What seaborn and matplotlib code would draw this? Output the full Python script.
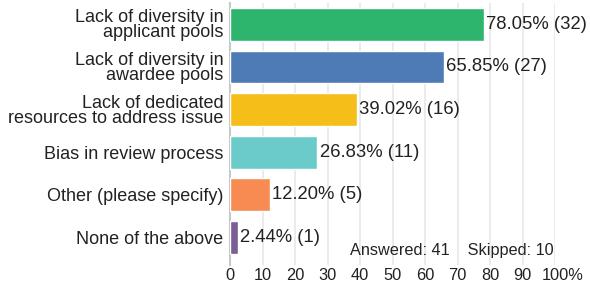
import pandas as pd
import matplotlib.pyplot as plt
import matplotlib.transforms as mtransforms
import seaborn as sns

categorias = ["Lack of diversity in\napplicant pools",
              "Lack of diversity in\nawardee pools",
              "Lack of dedicated\nresources to address issue",
              "Bias in review process",
              "Other (please specify)",
              "None of the above"]
percentuais = [78.05, 65.85, 39.02, 26.83, 12.20, 2.44]
contagens = [32, 27, 16, 11, 5, 1]
cores = ["#2DB56E", "#4E7AB5", "#F6BE19", "#6BCBCB", "#F78B52", "#7C5E96"]
ticks_x = [0, 10, 20, 30, 40, 50, 60, 70, 80, 90, 100]
rotulos_x = ["0", "10", "20", "30", "40", "50", "60", "70", "80", "90", "100%"]

sns.set_style("white")
plt.rcParams['font.family'] = ['Liberation Sans', 'DejaVu Sans']

dados = pd.DataFrame({"Categoria": categorias, "Pct": percentuais})

fig = plt.figure(figsize=(5.9, 2.85), dpi=100)
ax = fig.add_axes([0.39, 0.0702, 0.551, 0.919])
sns.barplot(data=dados, x="Pct", y="Categoria", hue="Categoria", palette=cores,
            legend=False, width=0.77, saturation=1, ax=ax, zorder=3)

for i, (p, c) in enumerate(zip(percentuais, contagens)):
    ax.text(p + 0.7, i, f"{p:.2f}% ({c})", va="center", ha="left",
            fontsize=13.3, color="#222222", zorder=4)

ax.set_xlim(0, 100)
ax.set_ylim(5.65, -0.5)
ax.set_xticks(ticks_x)
ax.set_xticklabels(rotulos_x)
ax.xaxis.grid(True, color="#e8e8e8", linewidth=1.2, zorder=0)
ax.tick_params(axis="both", length=0, colors="#222222")
ax.tick_params(axis="y", pad=5, labelsize=13)
ax.tick_params(axis="x", pad=2.5, labelsize=11.8)
for lbl in ax.get_yticklabels():
    lbl.set_linespacing(0.85)
# o "%" do ultimo rotulo fica a direita do 100
ultimo = ax.get_xticklabels()[-1]
ultimo.set_transform(ultimo.get_transform() +
                     mtransforms.ScaledTranslation(5.5 / 72, 0, fig.dpi_scale_trans))
ax.set_xlabel("")
ax.set_ylabel("")
for s in ["top", "right", "bottom"]:
    ax.spines[s].set_visible(False)
ax.spines["left"].set_color("#c8c8c8")
ax.spines["left"].set_linewidth(1.5)

ax.text(0.994, 0.057, "Answered: 41    Skipped: 10", transform=ax.transAxes,
        ha="right", va="center", fontsize=11.7, color="#222222", zorder=4)

plt.savefig("out.png", dpi=100)
plt.close()
